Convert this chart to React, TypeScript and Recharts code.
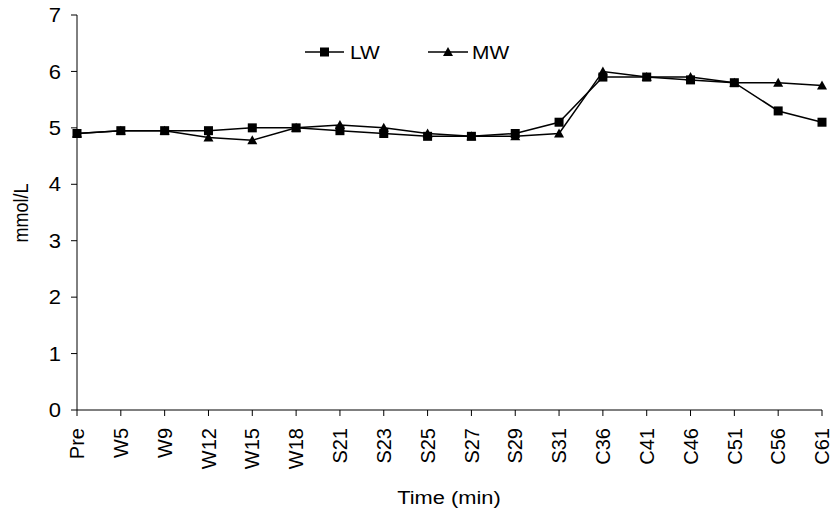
import { LineChart, Line, XAxis, YAxis, Legend, Label } from 'recharts';

const times = ['Pre', 'W5', 'W9', 'W12', 'W15', 'W18', 'S21', 'S23', 'S25', 'S27', 'S29', 'S31', 'C36', 'C41', 'C46', 'C51', 'C56', 'C61'];
const lwValues = [4.9, 4.95, 4.95, 4.95, 5.0, 5.0, 4.95, 4.9, 4.85, 4.85, 4.9, 5.1, 5.9, 5.9, 5.85, 5.8, 5.3, 5.1];
const mwValues = [4.9, 4.95, 4.95, 4.83, 4.78, 5.0, 5.05, 5.0, 4.9, 4.85, 4.85, 4.9, 6.0, 5.9, 5.9, 5.8, 5.8, 5.75];
const yTicks = [0, 1, 2, 3, 4, 5, 6, 7];

const data = times.map((t, i) => ({ time: t, LW: lwValues[i], MW: mwValues[i] }));

const FONT = '"Liberation Sans", Arial, sans-serif';

function SquareDot(props: any) {
  const { cx, cy, index } = props;
  if (cx == null || cy == null) return <g key={`sq-${index}`} />;
  return <rect key={`sq-${index}`} x={cx - 4.5} y={cy - 4.5} width={9} height={9} fill="#000" />;
}

function TriangleDot(props: any) {
  const { cx, cy, index } = props;
  if (cx == null || cy == null) return <g key={`tr-${index}`} />;
  const pts = `${cx},${cy - 5} ${cx + 5},${cy + 4} ${cx - 5},${cy + 4}`;
  return <polygon key={`tr-${index}`} points={pts} fill="#000" />;
}

function XTick(props: any) {
  const { x, y, payload } = props;
  return (
    <text
      transform={`translate(${x},${y + 10}) rotate(-90)`}
      textAnchor="end"
      dy="0.36em"
      fontSize={20}
      fontFamily={FONT}
      fill="#000"
    >
      {payload.value}
    </text>
  );
}

function YTick(props: any) {
  const { x, y, payload } = props;
  return (
    <text
      transform={`translate(${x - 8},${y}) scale(1.1,1)`}
      textAnchor="end"
      dy="0.36em"
      fontSize={20}
      fontFamily={FONT}
      fill="#000"
    >
      {payload.value}
    </text>
  );
}

function LegendContent() {
  return (
    <svg width={230} height={24} style={{ display: 'block' }}>
      <line x1={5} y1={12} x2={44} y2={12} stroke="#000" strokeWidth={1.5} />
      <rect x={20} y={7.5} width={9} height={9} fill="#000" />
      <text transform="translate(50,12) scale(1.1,1)" dy="0.36em" fontSize={19} fontFamily={FONT} fill="#000">LW</text>
      <line x1={128} y1={12} x2={168} y2={12} stroke="#000" strokeWidth={1.5} />
      <polygon points="148,7 153,16 143,16" fill="#000" />
      <text transform="translate(172,12) scale(1.1,1)" dy="0.36em" fontSize={19} fontFamily={FONT} fill="#000">MW</text>
    </svg>
  );
}

export default function App() {
  return (
    <div style={{ position: 'absolute', left: 0, top: 0, width: 830, height: 514, background: '#fff' }}>
      <LineChart width={830} height={514} data={data} margin={{ top: 15, right: 8, bottom: 0, left: 0 }}>
        <XAxis
          dataKey="time"
          interval={0}
          height={104}
          tickSize={6}
          tickMargin={2}
          axisLine={{ stroke: '#000', strokeWidth: 1 }}
          tickLine={{ stroke: '#000', strokeWidth: 1 }}
          tick={XTick}
        >
          <Label
            content={() => (
              <text transform="translate(449,504) scale(1.15,1)" textAnchor="middle" fontSize={19} fontFamily={FONT} fill="#000">
                Time (min)
              </text>
            )}
          />
        </XAxis>
        <YAxis
          domain={[0, 7]}
          ticks={yTicks}
          interval={0}
          width={77}
          tickSize={6}
          tickMargin={2}
          axisLine={{ stroke: '#000', strokeWidth: 1 }}
          tickLine={{ stroke: '#000', strokeWidth: 1 }}
          tick={YTick}
        >
          <Label
            content={() => (
              <text transform="translate(21,213) scale(1.15,1) rotate(-90)" textAnchor="middle" dy="0.36em" fontSize={18} fontFamily={FONT} fill="#000">
                mmol/L
              </text>
            )}
          />
        </YAxis>
        <Legend
          layout="horizontal"
          verticalAlign="middle"
          align="center"
          content={LegendContent}
          wrapperStyle={{ position: 'absolute', left: 300, top: 40, width: 230, height: 24 }}
        />
        <Line type="linear" dataKey="MW" stroke="#000" strokeWidth={1.5} dot={TriangleDot} activeDot={false} isAnimationActive={false} />
        <Line type="linear" dataKey="LW" stroke="#000" strokeWidth={1.5} dot={SquareDot} activeDot={false} isAnimationActive={false} />
      </LineChart>
    </div>
  );
}
